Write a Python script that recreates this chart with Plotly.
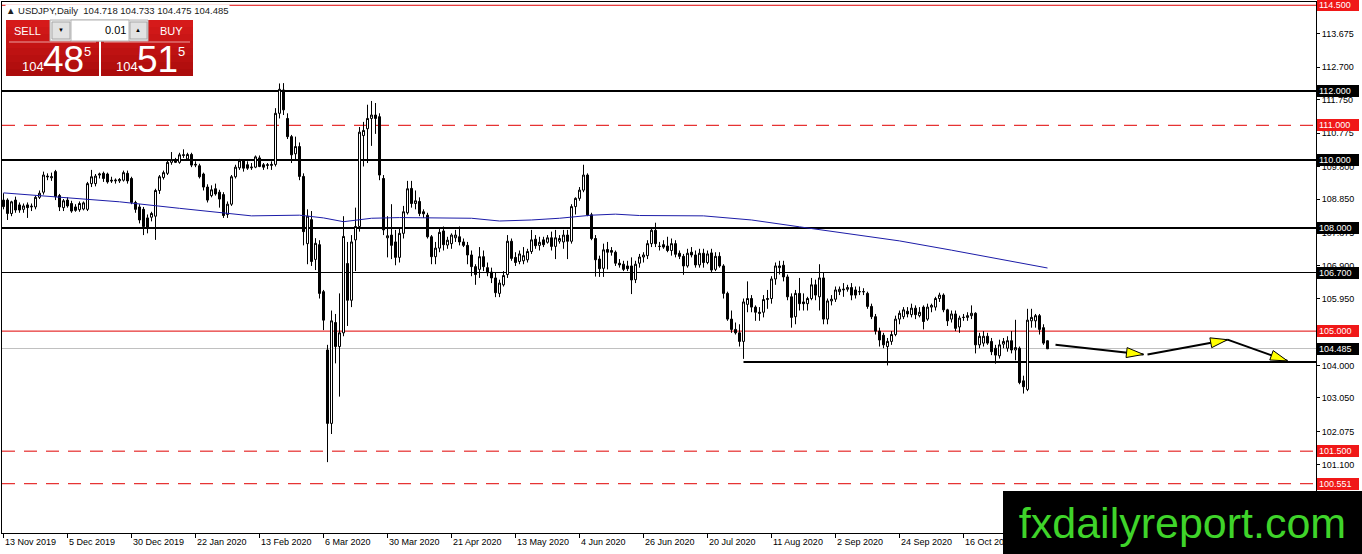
import math
import plotly.graph_objects as go

# MT4 screenshot USDJPY daily, 1362x554
W, H = 1362, 554
PLOT_L, PLOT_R, PLOT_T, PLOT_B = 2, 1316, 2, 533   # plot frame in px
Y_MIN, Y_MAX = 99.114, 114.595
X_MIN, X_MAX = -0.375, 328.125                     # bar index range (4px per bar, centres on .5px)

FONT = "Liberation Sans, Arial, sans-serif"
NARROW = "Liberation Sans Narrow, Liberation Sans, Arial, sans-serif"
RED_LINE = "#e00000"
RED_BOX = "#f01818"

# daily bars 13 Nov 2019 -> 16 Nov 2020
open_ = [
    108.82, 108.82, 108.43, 108.82, 108.68, 108.55, 108.68, 108.62, 108.62, 108.90,
    109.05, 109.52, 109.47, 109.65, 108.95, 108.60, 108.82, 108.72, 108.62, 108.54,
    108.56, 108.55, 109.30, 109.30, 109.55, 109.60, 109.58, 109.40, 109.38, 109.38,
    109.40, 109.60, 109.45, 108.75, 108.62, 108.55, 108.30, 108.32, 108.35, 109.10,
    109.48, 109.60, 109.92, 110.00, 109.92, 110.12, 110.02, 110.15, 109.84, 109.82,
    109.58, 109.20, 108.95, 109.15, 109.05, 108.98, 108.40, 108.70, 109.50, 109.76,
    109.96, 109.85, 109.76, 109.78, 110.05, 109.85, 109.83, 109.83, 109.86, 111.35,
    112.03, 111.20, 110.67, 110.17, 110.38, 109.51, 107.55, 108.25, 107.09, 107.52,
    106.15, 104.45, 102.31, 105.25, 104.55, 104.95, 106.97, 105.90, 107.66, 108.05,
    110.70, 110.90, 111.20, 111.30, 111.25, 109.45, 107.72, 107.80, 107.60, 107.15,
    107.85, 108.45, 109.16, 108.72, 108.78, 108.48, 108.38, 107.75, 107.17, 107.42,
    107.92, 107.51, 107.55, 107.72, 107.75, 107.60, 107.50, 107.22, 106.88, 106.80,
    107.17, 106.85, 106.72, 106.55, 106.10, 106.35, 106.65, 107.62, 107.15, 107.03,
    107.05, 107.08, 107.32, 107.68, 107.50, 107.66, 107.59, 107.72, 107.47, 107.62,
    107.60, 107.80, 107.62, 108.63, 108.87, 109.11, 109.55, 108.39, 107.70, 107.10,
    106.83, 107.38, 107.35, 107.30, 106.98, 106.95, 106.90, 106.90, 106.50, 106.98,
    107.16, 107.20, 107.55, 107.94, 107.47, 107.52, 107.48, 107.35, 107.55, 107.27,
    107.18, 106.90, 107.30, 107.22, 106.93, 107.27, 107.00, 107.28, 106.80, 107.18,
    106.90, 106.10, 105.35, 105.05, 104.95, 104.70, 105.78, 105.95, 105.70, 105.55,
    105.55, 105.92, 105.95, 106.52, 106.85, 106.92, 106.58, 106.00, 105.42, 106.10,
    105.85, 105.80, 105.95, 106.35, 106.00, 106.55, 105.35, 105.88, 105.93, 106.15,
    106.20, 106.22, 106.27, 106.20, 106.15, 106.15, 106.10, 105.72, 105.42, 105.00,
    104.88, 104.55, 104.70, 104.90, 105.35, 105.42, 105.58, 105.48, 105.67, 105.45,
    105.70, 105.35, 105.70, 105.70, 105.95, 106.05, 105.62, 105.35, 105.50, 105.12,
    105.40, 105.40, 105.45, 105.52, 104.60, 104.65, 104.85, 104.70, 104.50, 104.28,
    104.62, 104.50, 104.72, 104.45, 104.50, 103.55, 103.30, 105.30, 105.30, 105.45,
    105.10, 104.718,
]
high = [
    109.02, 108.87, 108.80, 108.92, 108.75, 108.72, 108.75, 108.72, 108.95, 109.10,
    109.65, 109.60, 109.62, 109.70, 109.00, 108.85, 108.90, 108.80, 108.70, 108.78,
    108.78, 109.35, 109.70, 109.58, 109.62, 109.65, 109.62, 109.50, 109.45, 109.46,
    109.68, 109.68, 109.50, 108.80, 108.70, 108.62, 108.40, 108.48, 109.15, 109.55,
    109.68, 110.00, 110.22, 110.05, 110.20, 110.30, 110.20, 110.20, 109.95, 109.88,
    109.62, 109.28, 109.25, 109.30, 109.12, 109.05, 108.78, 109.55, 109.85, 110.02,
    109.98, 109.95, 109.90, 110.12, 110.12, 109.90, 109.90, 109.95, 111.50, 112.22,
    112.23, 111.35, 110.72, 110.67, 110.50, 109.60, 108.55, 108.50, 107.71, 107.65,
    106.20, 104.60, 105.60, 105.50, 106.10, 108.35, 107.60, 107.80, 108.60, 110.95,
    111.10, 111.60, 111.71, 111.65, 111.35, 109.55, 108.35, 108.70, 107.95, 108.00,
    108.65, 109.38, 109.38, 109.10, 108.90, 108.55, 108.45, 107.80, 107.60, 108.00,
    108.05, 107.75, 107.85, 107.95, 108.05, 107.70, 107.60, 107.35, 106.95, 107.45,
    107.35, 107.00, 106.85, 106.70, 106.50, 106.75, 107.80, 107.70, 107.30, 107.35,
    107.45, 107.40, 107.95, 107.80, 107.75, 107.75, 107.80, 107.90, 107.95, 107.80,
    107.95, 107.95, 108.70, 108.90, 109.20, 109.85, 109.60, 108.45, 107.80, 107.20,
    107.55, 107.60, 107.45, 107.35, 107.10, 107.05, 107.05, 107.15, 107.05, 107.25,
    107.30, 107.65, 108.00, 108.16, 107.60, 107.65, 107.75, 107.70, 107.65, 107.35,
    107.25, 107.40, 107.45, 107.35, 107.40, 107.40, 107.35, 107.40, 107.30, 107.30,
    106.95, 106.15, 105.60, 105.25, 105.20, 105.95, 106.45, 106.05, 105.75, 105.70,
    106.05, 106.20, 106.60, 107.00, 107.05, 107.05, 106.65, 106.10, 106.20, 106.55,
    106.10, 106.00, 106.55, 106.50, 106.95, 106.70, 105.95, 106.05, 106.30, 106.30,
    106.40, 106.35, 106.40, 106.30, 106.30, 106.25, 106.15, 105.80, 105.50, 105.10,
    104.95, 104.80, 105.00, 105.45, 105.60, 105.70, 105.70, 105.80, 105.75, 105.70,
    105.75, 105.80, 105.80, 106.00, 106.12, 106.10, 105.65, 105.60, 105.60, 105.45,
    105.50, 105.55, 105.75, 105.55, 104.95, 105.00, 104.95, 104.80, 104.60, 104.75,
    104.80, 104.85, 105.00, 105.33, 104.55, 103.70, 105.65, 105.65, 105.50, 105.50,
    105.20, 104.733,
]
low = [
    108.55, 108.24, 108.35, 108.45, 108.45, 108.45, 108.30, 108.50, 108.55, 108.85,
    108.98, 109.40, 109.38, 108.82, 108.50, 108.50, 108.60, 108.45, 108.48, 108.48,
    108.52, 108.50, 109.20, 109.22, 109.45, 109.35, 109.30, 109.32, 109.30, 109.32,
    109.36, 109.30, 108.70, 108.45, 108.14, 107.80, 107.85, 108.20, 107.66, 109.00,
    109.42, 109.55, 109.85, 109.90, 109.88, 110.05, 109.98, 109.78, 109.78, 109.45,
    109.10, 108.75, 108.90, 108.95, 108.60, 108.30, 108.30, 108.65, 109.45, 109.70,
    109.65, 109.70, 109.70, 109.75, 109.78, 109.70, 109.72, 109.70, 109.80, 111.20,
    111.30, 110.60, 109.90, 110.00, 109.40, 107.50, 106.95, 106.90, 106.78, 105.95,
    105.03, 101.18, 102.00, 104.06, 103.09, 104.85, 105.15, 105.70, 106.75, 107.90,
    109.80, 109.90, 110.40, 110.75, 109.40, 107.80, 107.15, 107.10, 106.92, 107.00,
    107.70, 108.40, 108.60, 108.55, 108.35, 108.30, 107.70, 106.95, 106.95, 107.30,
    107.35, 107.40, 107.40, 107.60, 107.50, 107.45, 106.95, 106.60, 106.35, 106.55,
    106.75, 106.60, 106.40, 105.99, 105.99, 106.30, 106.55, 107.05, 106.90, 106.95,
    106.95, 107.00, 107.25, 107.40, 107.35, 107.45, 107.55, 107.35, 107.10, 107.55,
    107.40, 107.10, 107.55, 108.40, 108.80, 109.05, 108.35, 107.65, 106.59, 106.58,
    106.58, 106.80, 107.20, 106.90, 106.85, 106.75, 106.75, 106.08, 106.40, 106.85,
    107.00, 107.10, 107.45, 107.45, 107.35, 107.40, 107.30, 107.20, 107.15, 107.10,
    106.64, 106.85, 107.15, 106.85, 106.85, 106.85, 106.95, 106.70, 106.75, 106.85,
    105.95, 105.30, 104.95, 104.90, 104.55, 104.19, 105.55, 105.55, 105.30, 105.30,
    105.40, 105.65, 105.80, 106.35, 106.65, 106.45, 105.90, 105.10, 105.20, 105.60,
    105.60, 105.60, 105.90, 105.90, 105.60, 105.20, 105.20, 105.75, 105.85, 106.05,
    106.00, 106.15, 105.90, 105.95, 106.05, 106.05, 105.65, 105.35, 104.90, 104.55,
    104.50, 104.00, 104.60, 104.85, 105.20, 105.35, 105.40, 105.40, 105.35, 105.40,
    105.05, 105.30, 105.55, 105.60, 105.85, 105.55, 105.15, 105.25, 105.00, 104.95,
    105.30, 105.30, 105.35, 104.35, 104.50, 104.55, 104.60, 104.30, 104.05, 104.20,
    104.50, 104.40, 104.35, 104.15, 103.45, 103.18, 103.25, 105.10, 105.10, 104.90,
    104.60, 104.475,
]
close = [
    108.63, 108.43, 108.77, 108.53, 108.53, 108.65, 108.60, 108.64, 108.90, 109.02,
    109.55, 109.50, 109.50, 108.92, 108.62, 108.80, 108.65, 108.50, 108.52, 108.72,
    108.74, 109.30, 109.50, 109.52, 109.58, 109.45, 109.35, 109.38, 109.40, 109.42,
    109.62, 109.38, 108.75, 108.55, 108.24, 108.05, 108.00, 108.43, 109.10, 109.50,
    109.62, 109.92, 110.00, 109.92, 110.14, 110.14, 110.15, 109.84, 109.86, 109.50,
    109.20, 108.82, 109.12, 109.00, 108.85, 108.37, 108.70, 109.50, 109.78, 109.97,
    109.75, 109.75, 109.78, 110.08, 109.80, 109.78, 109.85, 109.86, 111.35, 112.05,
    111.45, 110.67, 110.14, 110.38, 109.51, 107.90, 108.35, 107.03, 107.56, 106.10,
    105.32, 102.31, 105.30, 104.55, 104.95, 107.76, 105.90, 107.60, 108.05, 110.80,
    110.85, 111.20, 111.30, 111.20, 109.55, 107.95, 107.78, 107.50, 107.15, 107.85,
    108.48, 109.15, 108.72, 108.80, 108.43, 108.42, 107.75, 107.17, 107.42, 107.88,
    107.52, 107.65, 107.80, 107.80, 107.60, 107.50, 107.22, 106.88, 106.65, 107.17,
    106.88, 106.70, 106.55, 106.12, 106.40, 106.62, 107.62, 107.12, 107.00, 107.25,
    107.20, 107.32, 107.66, 107.49, 107.59, 107.52, 107.72, 107.47, 107.72, 107.70,
    107.80, 107.62, 108.63, 108.87, 109.11, 109.55, 108.39, 107.70, 107.08, 106.82,
    107.37, 107.30, 107.30, 106.98, 106.93, 106.80, 106.82, 106.49, 106.95, 107.16,
    107.22, 107.55, 107.94, 107.55, 107.47, 107.45, 107.35, 107.55, 107.24, 107.18,
    106.90, 107.27, 107.22, 106.93, 107.27, 107.00, 107.25, 106.78, 107.18, 106.90,
    106.10, 105.35, 105.05, 104.95, 104.70, 105.85, 105.95, 105.70, 105.55, 105.52,
    105.92, 105.95, 106.52, 106.90, 106.90, 106.58, 106.00, 105.40, 106.10, 105.80,
    105.80, 105.95, 106.35, 106.05, 106.55, 105.35, 105.88, 105.93, 106.20, 106.22,
    106.22, 106.27, 106.05, 106.05, 106.15, 106.15, 105.72, 105.42, 105.00, 104.74,
    104.60, 104.70, 104.90, 105.35, 105.52, 105.62, 105.50, 105.67, 105.48, 105.55,
    105.28, 105.70, 105.75, 105.95, 106.05, 105.62, 105.30, 105.50, 105.08, 105.38,
    105.40, 105.45, 105.52, 104.60, 104.85, 104.85, 104.65, 104.40, 104.30, 104.60,
    104.70, 104.72, 104.45, 104.52, 103.50, 103.38, 105.32, 105.40, 105.45, 105.05,
    104.65, 104.485,
]

# moving average (blue) read at a few bars
ma_bar = [0, 14, 29, 44, 56, 62, 74, 80, 85, 92, 99, 112, 117, 124, 132, 139,
          147, 153, 159, 175, 187, 199, 212, 224, 237, 249, 261]
ma_val = [109.03, 108.91, 108.77, 108.58, 108.44, 108.36, 108.38, 108.30, 108.19,
          108.29, 108.31, 108.31, 108.29, 108.21, 108.24, 108.29, 108.38, 108.41,
          108.37, 108.36, 108.24, 108.04, 107.83, 107.63, 107.36, 107.10, 106.84]

date_labels = ["13 Nov 2019", "5 Dec 2019", "30 Dec 2019", "22 Jan 2020", "13 Feb 2020",
               "6 Mar 2020", "30 Mar 2020", "21 Apr 2020", "13 May 2020", "4 Jun 2020",
               "26 Jun 2020", "20 Jul 2020", "11 Aug 2020", "2 Sep 2020", "24 Sep 2020",
               "16 Oct 2020"]
DATE_STEP = 16

price_ticks = [113.675, 112.700, 111.750, 110.775, 109.800, 108.850, 107.875,
               106.900, 105.950, 104.000, 103.050, 102.075, 101.100]

# horizontal levels + their style
levels = [114.5, 112.0, 111.0, 110.0, 108.0, 106.7, 105.0, 104.485, 101.5, 100.551]
level_kind = ["red", "black2", "reddash", "black2", "black2", "black1", "red", "bid",
              "reddash", "reddash"]
support_bar, support_price = 185, 104.10

# hand-drawn forecast arrows (bar, price)
arrows = [[(263, 104.60), (285, 104.32)],
          [(286, 104.32), (306, 104.75)],
          [(306, 104.75), (321, 104.13)]]

title_txt = "▲ USDJPY,Daily  104.718 104.733 104.475 104.485"
sell_price = ["104", "48", "5"]
buy_price = ["104", "51", "5"]
lot_txt = "0.01"
logo_txt = "fxdailyreport.com"

ppb = (PLOT_R - PLOT_L) / (X_MAX - X_MIN)   # px per bar
ppp = (PLOT_B - PLOT_T) / (Y_MAX - Y_MIN)   # px per yen


def fx(px):
    return (px - PLOT_L) / (PLOT_R - PLOT_L)


def fy(py):
    return (PLOT_B - py) / (PLOT_B - PLOT_T)


def crisp(v, width):
    # nudge a black horizontal line (< half a pixel) so it sits on the pixel grid
    py = PLOT_T + (Y_MAX - v) * ppp
    py = round(py) if width % 2 == 0 else math.floor(py) + 0.5
    return Y_MAX - (py - PLOT_T) / ppp


def rect(x0, y0, x1, y1, fill, line=None):
    return dict(type="rect", xref="paper", yref="paper", layer="above",
                x0=fx(x0), x1=fx(x1), y0=fy(y1), y1=fy(y0), fillcolor=fill,
                line=dict(color=line or fill, width=1 if line else 0))


def txt(x, y, s, size, color="white", xanchor="center", family=FONT):
    return dict(xref="paper", yref="paper", x=fx(x), y=fy(y), text=s, showarrow=False,
                xanchor=xanchor, yanchor="middle", borderpad=0,
                font=dict(size=size, color=color, family=family))


STY = {
    "red": dict(color=RED_LINE, width=1),
    "reddash": dict(color=RED_LINE, width=1, dash="13px,9px"),
    "black2": dict(color="black", width=2),
    "black1": dict(color="black", width=1),
    "bid": dict(color="#c0c0c0", width=1),
}

fig = go.Figure()
fig.add_trace(go.Candlestick(
    x=list(range(len(open_))), open=open_, high=high, low=low, close=close,
    increasing=dict(line=dict(color="black", width=1), fillcolor="white"),
    decreasing=dict(line=dict(color="black", width=1), fillcolor="black"),
    whiskerwidth=0, hoverinfo="skip"))
fig.add_trace(go.Scatter(x=ma_bar, y=ma_val, mode="lines",
                         line=dict(color="#1c1ca8", width=1), hoverinfo="skip"))

shapes = []
annots = []

# levels
for v, k in zip(levels, level_kind):
    red = k.startswith("red")
    yv = v if red else crisp(v, STY[k]["width"])
    shapes.append(dict(type="line", xref="paper", yref="y", x0=0, x1=1, y0=yv, y1=yv,
                       line=dict(STY[k]), layer="below"))
    box = RED_BOX if red else "black"
    annots.append(dict(xref="paper", yref="y", x=1, y=v, xanchor="left", yanchor="middle",
                       xshift=1, text=f"{v:.3f}", showarrow=False, align="left",
                       width=38, height=8, borderpad=1, borderwidth=1, bordercolor=box,
                       bgcolor=box, font=dict(size=9, color="white", family=FONT)))
ys = crisp(support_price, 2)
shapes.append(dict(type="line", xref="x", yref="y", x0=support_bar, x1=X_MAX,
                   y0=ys, y1=ys, line=dict(color="black", width=2), layer="below"))

# arrows: black segment + yellow head
for (a, b) in arrows:
    shapes.append(dict(type="line", xref="x", yref="y", x0=a[0], y0=a[1], x1=b[0], y1=b[1],
                       line=dict(color="black", width=2), layer="above"))
    dx = (b[0] - a[0]) * ppb
    dy = -(b[1] - a[1]) * ppp
    ln = math.hypot(dx, dy)
    ux, uy = dx / ln, dy / ln
    tx, ty = b[0] * ppb, -b[1] * ppp
    bx, by = tx - 17 * ux, ty - 17 * uy
    p1 = (bx - 5 * uy, by + 5 * ux)
    p2 = (bx + 5 * uy, by - 5 * ux)
    pts = [(tx, ty), p1, p2]
    path = "M " + " L ".join(f"{px / ppb:.3f},{-py / ppp:.4f}" for px, py in pts) + " Z"
    shapes.append(dict(type="path", xref="x", yref="y", path=path, fillcolor="#ffff00",
                       line=dict(color="black", width=1), layer="above"))

# date labels (left aligned after tick like MT4)
tick_bars = [i * DATE_STEP for i in range(len(date_labels))]
for b, s in zip(tick_bars, date_labels):
    annots.append(dict(xref="x", yref="paper", x=b, y=0, xanchor="left", yanchor="top",
                       xshift=0, yshift=-3, text=s, showarrow=False, borderpad=0,
                       font=dict(size=9, color="black", family=FONT)))

# title
annots.append(dict(xref="paper", yref="paper", x=fx(5), y=fy(10), xanchor="left",
                   yanchor="middle", text=title_txt, showarrow=False, bgcolor="white",
                   borderpad=0, font=dict(size=9.5, color="#202020", family=FONT)))

# one-click trading panel
for i in range(8):
    c = (214 - i * 6, 26 - i * 2, 26 - i * 2)
    col = f"rgb{c}"
    y0 = 20 + i * 7
    shapes.append(rect(6, y0, 99, y0 + 7, col))
    shapes.append(rect(101, y0, 193, y0 + 7, col))
shapes.append(rect(50, 20, 148, 41, "#f0f0f0", "#b4b4b4"))
shapes.append(rect(52, 22, 70, 39, "#e2e2e2", "#a8a8a8"))
shapes.append(rect(71, 20, 129, 41, "white", "#b4b4b4"))
shapes.append(rect(130, 22, 147, 39, "#e2e2e2", "#a8a8a8"))
shapes.append(dict(type="line", xref="paper", yref="paper", x0=fx(9), x1=fx(96),
                   y0=fy(42), y1=fy(42), line=dict(color="#eda0a0", width=1), layer="above"))
shapes.append(dict(type="line", xref="paper", yref="paper", x0=fx(104), x1=fx(190),
                   y0=fy(42), y1=fy(42), line=dict(color="#eda0a0", width=1), layer="above"))

annots.append(txt(27, 31, "SELL", 11))
annots.append(txt(171, 31, "BUY", 11))
annots.append(txt(127, 30, lot_txt, 11, "black", "right"))
annots.append(txt(61, 30, "▼", 6, "black"))
annots.append(txt(138, 30, "▲", 6, "black"))
annots.append(txt(33, 66, sell_price[0], 13, family=NARROW))
annots.append(txt(63, 59, sell_price[1], 37, family=NARROW))
annots.append(txt(87, 52, sell_price[2], 13, family=NARROW))
annots.append(txt(127, 66, buy_price[0], 13, family=NARROW))
annots.append(txt(157, 59, buy_price[1], 37, family=NARROW))
annots.append(txt(181, 52, buy_price[2], 13, family=NARROW))

# logo box sits on top of everything
annots.append(dict(xref="paper", yref="paper", x=fx(1003), y=fy(491), xanchor="left",
                   yanchor="top", text=logo_txt, showarrow=False, bgcolor="black",
                   width=359, height=63, borderpad=0, borderwidth=0,
                   font=dict(size=43, color="#3fd42a", family=FONT)))

fig.update_layout(
    width=W, height=H,
    margin=dict(l=PLOT_L, r=W - PLOT_R, t=PLOT_T, b=H - PLOT_B, pad=0),
    plot_bgcolor="white", paper_bgcolor="white", showlegend=False,
    boxgap=0.5, boxgroupgap=0,
    shapes=shapes, annotations=annots,
    xaxis=dict(range=[X_MIN, X_MAX], showgrid=False, zeroline=False, showline=True,
               mirror=True, linecolor="black", linewidth=1, ticks="outside", ticklen=4,
               tickcolor="black", tickvals=tick_bars, showticklabels=False,
               rangeslider=dict(visible=False), fixedrange=True),
    yaxis=dict(range=[Y_MIN, Y_MAX], side="right", showgrid=False, zeroline=False,
               showline=True, mirror=True, linecolor="black", linewidth=1,
               ticks="outside", ticklen=3, tickcolor="black", tickvals=price_ticks,
               ticktext=[f"{v:.3f}" for v in price_ticks],
               tickfont=dict(size=9, color="black", family=FONT), fixedrange=True),
)

fig.write_html("out.html", config={"displayModeBar": False},
               post_script="document.body.style.margin='0';")
